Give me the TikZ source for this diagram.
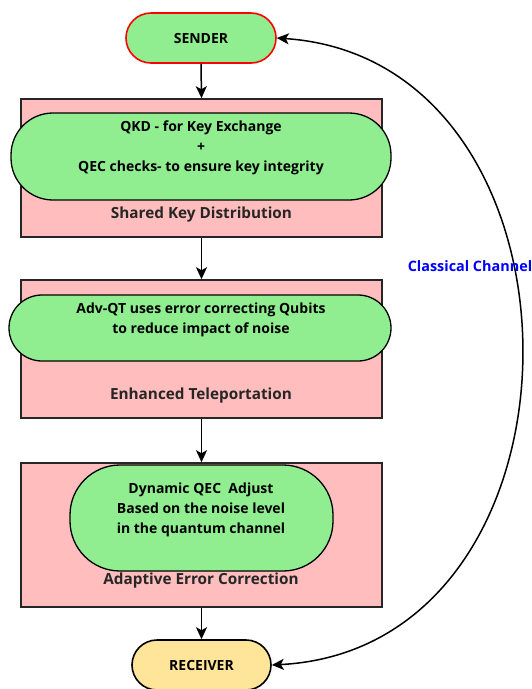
\documentclass[tikz,border=0pt]{standalone}
\usepackage{fontspec}
\setmainfont{Open Sans}
\usetikzlibrary{arrows.meta}

\definecolor{leaf}{HTML}{90EE90}
\definecolor{blush}{HTML}{FFBDBD}
\definecolor{sand}{HTML}{FFE599}
\definecolor{edge}{HTML}{262626}

\tikzset{
  stagebox/.style={draw=edge, fill=blush, line width=1.6pt, inner sep=0pt},
  pill/.style={draw=black, fill=leaf, line width=1.3pt, inner sep=0pt},
  endpoint/.style={line width=1.6pt, inner sep=0pt, minimum width=#1, minimum height=50pt,
                   rounded corners=25pt, font=\bfseries\fontsize{14}{16}\selectfont},
  inner/.style={align=center, font=\bfseries\fontsize{14}{20}\selectfont, inner sep=0pt},
  stagelabel/.style={font=\bfseries\fontsize{15.3}{19}\selectfont, text=black!85, inner sep=0pt},
  flow/.style={line width=1.5pt, -{Stealth[length=12pt, width=11pt, inset=3pt]}},
}

\begin{document}
\begin{tikzpicture}[x=1pt, y=-1pt]
\useasboundingbox (0,0) rectangle (532,689);

% end points
\node[endpoint=150pt, draw=red, fill=leaf] (sender) at (201,38) {SENDER};
\node[endpoint=139pt, draw=black, fill=sand] (receiver) at (201.5,665) {RECEIVER};

% stage 1: shared key distribution
\node[stagebox, minimum width=361pt, minimum height=138pt] (b1) at (201.5,168) {};
\node[pill, minimum width=380pt, minimum height=87pt, rounded corners=42pt] (e1) at (201,156.5) {};
\node[inner] (t1) at (201,148) {QKD - for Key Exchange\\+\\QEC checks- to ensure key integrity};
\node[stagelabel] (l1) at (201.5,215) {Shared Key Distribution};

% stage 2: enhanced teleportation
\node[stagebox, minimum width=361pt, minimum height=138pt] (b2) at (201.5,349) {};
\node[pill, minimum width=382pt, minimum height=66pt, rounded corners=33pt] (e2) at (200,328) {};
\node[inner] (t2) at (201,320) {Adv-QT uses error correcting Qubits\\to reduce impact of noise};
\node[stagelabel] (l2) at (201,395.5) {Enhanced Teleportation};

% stage 3: adaptive error correction
\node[stagebox, minimum width=361pt, minimum height=144pt] (b3) at (201.5,535) {};
\node[pill, minimum width=263pt, minimum height=106pt, rounded corners=50pt] (e3) at (201.5,518) {};
\node[inner] (t3) at (201,510) {Dynamic QEC\ \ Adjust\\Based on the noise level\\in the quantum channel};
\node[stagelabel] (l3) at (201,580.5) {Adaptive Error Correction};

% main flow
\draw[flow] (sender.south) -- (b1.north);
\draw[flow] (b1.south) -- (b2.north);
\draw[flow] (b2.south) -- (b3.north);
\draw[flow] (b3.south) -- (receiver.north);

% classical channel
\draw[line width=1.5pt, {Stealth[length=12pt, width=11pt, inset=3pt]}-{Stealth[length=12pt, width=11pt, inset=3pt]}]
  (sender.east) .. controls (603,60) and (603,648) .. (receiver.east);
\node[text=blue, font=\bfseries\fontsize{14.4}{16}\selectfont, inner sep=0pt] (cc) at (470,266) {Classical Channel};
\end{tikzpicture}
\end{document}
